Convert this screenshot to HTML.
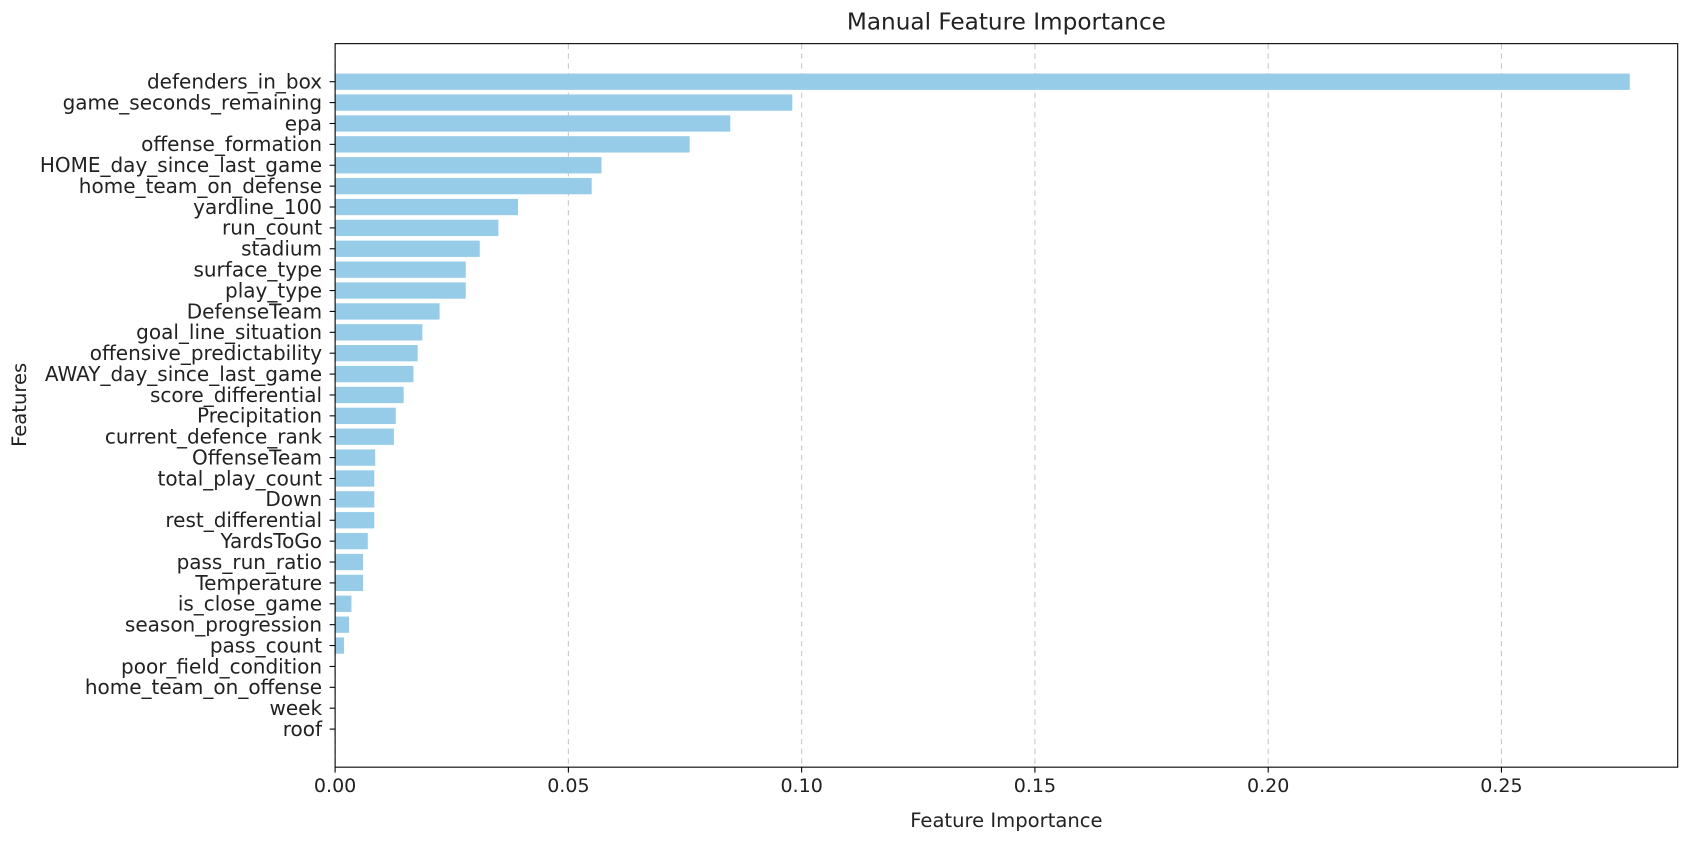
<!DOCTYPE html>
<html><head><meta charset="utf-8"><style>
body{margin:0;background:#fff;}
svg text{font-family:"DejaVu Sans","Liberation Sans",sans-serif;fill:#222;}
</style></head><body>
<svg id="chart" width="1706" height="838" viewBox="0 0 1568 770" xmlns="http://www.w3.org/2000/svg">
<rect width="1568" height="770" fill="#fff"/>
<text x="925" y="27" font-size="21.3" text-anchor="middle">Manual Feature Importance</text>
<text x="925" y="760" font-size="18" text-anchor="middle">Feature Importance</text>
<text x="24" y="372" font-size="18" text-anchor="middle" transform="rotate(-90 24 372)">Features</text>
<g id="grid"></g><g id="bars"></g><g id="ylabels"></g><g id="xticks"></g>
<rect x="308" y="40" width="1234" height="665" fill="none" stroke="#000" stroke-width="1"/>
</svg>
<script>
const features=["defenders_in_box","game_seconds_remaining","epa","offense_formation","HOME_day_since_last_game","home_team_on_defense","yardline_100","run_count","stadium","surface_type","play_type","DefenseTeam","goal_line_situation","offensive_predictability","AWAY_day_since_last_game","score_differential","Precipitation","current_defence_rank","OffenseTeam","total_play_count","Down","rest_differential","YardsToGo","pass_run_ratio","Temperature","is_close_game","season_progression","pass_count","poor_field_condition","home_team_on_offense","week","roof"];
const importance=[0.2775,0.098,0.0847,0.076,0.0571,0.055,0.0392,0.035,0.031,0.028,0.028,0.0224,0.0187,0.0177,0.0168,0.0147,0.013,0.0126,0.0086,0.0084,0.0084,0.0084,0.007,0.006,0.006,0.0035,0.003,0.0019,0,0,0,0];
const xTicks=[0,0.05,0.10,0.15,0.20,0.25];
const xTickLabels=["0.00","0.05","0.10","0.15","0.20","0.25"];
const NS="http://www.w3.org/2000/svg";
const x=v=>308+v*4288;
const y0=75, step=(670-75)/(features.length-1);
const y=i=>y0+i*step;
function mk(t,a,p){const e=document.createElementNS(NS,t);for(const k in a)e.setAttribute(k,a[k]);p.appendChild(e);return e;}
const grid=document.getElementById('grid'),bars=document.getElementById('bars'),yl=document.getElementById('ylabels'),xt=document.getElementById('xticks');
xTicks.forEach((v,i)=>{
 const g=mk('line',{x1:x(v),x2:x(v),y1:40,y2:705,stroke:'#c8c8c8','stroke-dasharray':'5,4','stroke-width':1},grid);
 
 
 const t=mk('line',{x1:x(v),x2:x(v),y1:705,y2:710,stroke:'#000'},xt);
 
 
 const l=mk('text',{x:x(v),y:728,'font-size':17.5,'text-anchor':'middle'},xt);l.textContent=xTickLabels[i];
 
 
});
features.forEach((f,i)=>{
 const b=mk('rect',{x:308,y:y(i)-7.5,width:Math.max(0,x(importance[i])-308),height:15,fill:'#97cce9'},bars);
 
 
 const t=mk('line',{x1:303,x2:308,y1:y(i),y2:y(i),stroke:'#000'},yl);
 
 
 const l=mk('text',{x:296,y:y(i)+6.3,'font-size':18.4,'text-anchor':'end'},yl);l.textContent=f;
 
 
});
</script>
</body></html>
